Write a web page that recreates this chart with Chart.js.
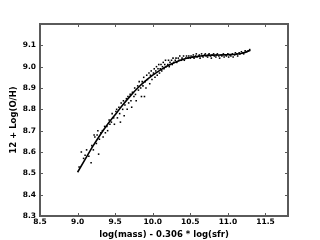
<!DOCTYPE html>
<html>
<head>
<meta charset="utf-8">
<script src="https://cdn.jsdelivr.net/npm/chart.js@4"></script>
<style>
  html, body { margin: 0; padding: 0; background: #fff; }
  #wrap { width: 320px; height: 240px; }
</style>
</head>
<body>
<div id="wrap"><canvas id="chart"></canvas></div>
<script>
const xTicks = [8.5, 9.0, 9.5, 10.0, 10.5, 11.0, 11.5];
const yTicks = [8.3, 8.4, 8.5, 8.6, 8.7, 8.8, 8.9, 9.0, 9.1];

// fitted relation
const fitMass = [9.0, 9.1, 9.2, 9.3, 9.4, 9.5, 9.6, 9.7, 9.8, 9.9, 10.0, 10.1,
    10.2, 10.3, 10.4, 10.5, 10.6, 10.7, 10.8, 10.9, 11.0, 11.1, 11.2, 11.3];
const fitOH = [8.505, 8.565, 8.625, 8.68, 8.73, 8.775, 8.82, 8.862, 8.9, 8.932, 8.96, 8.984,
    9.004, 9.021, 9.034, 9.043, 9.048, 9.052, 9.054, 9.055, 9.056, 9.058, 9.064, 9.077];

// binned galaxies
const galMass = [
    9.02, 9.05, 9.08, 9.10, 9.12, 9.15, 9.18, 9.19, 9.21, 9.22, 9.23, 9.25, 9.26, 9.27, 9.28, 9.29,
    9.31, 9.33, 9.34, 9.36, 9.37, 9.39, 9.40, 9.42, 9.43, 9.45, 9.46, 9.48, 9.49, 9.51,
    9.52, 9.53, 9.55, 9.56, 9.57, 9.58, 9.60, 9.61, 9.62, 9.63, 9.65, 9.66, 9.67, 9.68, 9.70,
    9.71, 9.72, 9.73, 9.75, 9.76, 9.77, 9.78, 9.80, 9.81, 9.82, 9.84, 9.85, 9.86, 9.87, 9.88,
    9.89, 9.90, 9.91, 9.92, 9.93, 9.95, 9.96, 9.97, 9.98, 9.99,
    10.01, 10.02, 10.03, 10.04, 10.05, 10.06, 10.07, 10.08, 10.09, 10.10, 10.11, 10.12, 10.13,
    10.14, 10.15, 10.16, 10.17, 10.18, 10.20, 10.21, 10.22, 10.23, 10.25, 10.26, 10.27, 10.28,
    10.30, 10.31, 10.32, 10.34, 10.35, 10.36, 10.38, 10.39, 10.41, 10.42, 10.44, 10.45, 10.47, 10.48,
    10.50, 10.51, 10.53, 10.54, 10.55, 10.57, 10.58, 10.59, 10.61, 10.62, 10.63, 10.65, 10.66,
    10.67, 10.69, 10.70, 10.71, 10.73, 10.74, 10.75, 10.77, 10.78, 10.79, 10.81, 10.82, 10.84,
    10.85, 10.86, 10.88, 10.89, 10.91, 10.92, 10.94, 10.95, 10.97, 10.98, 11.00, 11.01, 11.03,
    11.04, 11.06, 11.07, 11.09, 11.10, 11.12, 11.13, 11.15, 11.16, 11.18, 11.20, 11.21, 11.23,
    11.25, 11.27, 11.29
];
const galOH = [
    8.53, 8.60, 8.57, 8.585, 8.61, 8.58, 8.55, 8.63, 8.61, 8.68, 8.67, 8.64, 8.68, 8.70, 8.59, 8.66,
    8.69, 8.70, 8.67, 8.72, 8.69, 8.72, 8.70, 8.75, 8.73, 8.74, 8.78, 8.76, 8.73, 8.79,
    8.80, 8.76, 8.81, 8.78, 8.74, 8.83, 8.80, 8.84, 8.77, 8.82, 8.85, 8.80, 8.86, 8.83, 8.87,
    8.84, 8.81, 8.88, 8.86, 8.90, 8.87, 8.84, 8.91, 8.89, 8.93, 8.90, 8.86, 8.93, 8.91, 8.95,
    8.86, 8.93, 8.90, 8.96, 8.94, 8.97, 8.92, 8.96, 8.98, 8.94,
    8.97, 8.99, 8.95, 8.98, 9.00, 8.96, 8.99, 9.01, 8.97, 8.99, 9.01, 8.98, 9.00,
    9.02, 8.99, 9.01, 9.03, 9.00, 9.01, 9.03, 9.00, 9.02, 9.03, 9.01, 9.04, 9.02,
    9.03, 9.04, 9.02, 9.04, 9.03, 9.05, 9.03, 9.04, 9.05, 9.03, 9.04, 9.05, 9.04, 9.05,
    9.04, 9.05, 9.045, 9.055, 9.04, 9.05, 9.06, 9.045, 9.05, 9.055, 9.04, 9.06, 9.05,
    9.045, 9.055, 9.06, 9.05, 9.045, 9.055, 9.06, 9.05, 9.04, 9.055, 9.06, 9.05, 9.045,
    9.055, 9.06, 9.05, 9.04, 9.055, 9.05, 9.06, 9.045, 9.055, 9.05, 9.06, 9.045, 9.055,
    9.05, 9.06, 9.045, 9.055, 9.065, 9.06, 9.05, 9.065, 9.06, 9.07, 9.065, 9.06, 9.075,
    9.07, 9.075, 9.08
];

const frameColor = "#5a5a5a";
const font = { family: "DejaVu Sans", weight: "bold", size: 7.5 };
const titleFont = { family: "DejaVu Sans", weight: "bold", size: 8.5 };

// matplotlib style box with inward ticks on all four sides
const framePlugin = {
    id: "frame",
    afterDraw(chart) {
        const { ctx, chartArea: a, scales } = chart;
        ctx.save();
        ctx.strokeStyle = frameColor;
        ctx.lineWidth = 1;
        scales.x.ticks.forEach((t) => {
            const px = Math.round(scales.x.getPixelForValue(t.value)) + 0.5;
            ctx.beginPath();
            ctx.moveTo(px, a.bottom); ctx.lineTo(px, a.bottom - 3);
            ctx.moveTo(px, a.top); ctx.lineTo(px, a.top + 3);
            ctx.stroke();
        });
        scales.y.ticks.forEach((t) => {
            const py = Math.round(scales.y.getPixelForValue(t.value)) + 0.5;
            ctx.beginPath();
            ctx.moveTo(a.left, py); ctx.lineTo(a.left + 3, py);
            ctx.moveTo(a.right, py); ctx.lineTo(a.right - 3, py);
            ctx.stroke();
        });
        ctx.lineWidth = 2;
        ctx.strokeRect(a.left, a.top, a.right - a.left, a.bottom - a.top);
        ctx.restore();
    },
};

new Chart(document.getElementById("chart"), {
    type: "scatter",
    data: {
        datasets: [
            {
                label: "galaxies",
                data: galMass.map((m, i) => ({ x: m, y: galOH[i] })),
                pointStyle: "rect",
                pointRadius: 1.1,
                backgroundColor: "#000",
                borderWidth: 0,
            },
            {
                label: "fit",
                type: "line",
                data: fitMass.map((m, i) => ({ x: m, y: fitOH[i] })),
                borderColor: "#000",
                borderWidth: 1.6,
                pointRadius: 0,
                cubicInterpolationMode: "monotone",
                fill: false,
            },
        ],
    },
    options: {
        responsive: true,
        maintainAspectRatio: false,
        animation: false,
        layout: { padding: { top: 24, right: 32, left: 0, bottom: 0 } },
        plugins: { legend: { display: false }, tooltip: { enabled: false } },
        scales: {
            x: {
                type: "linear",
                min: 8.5,
                max: 11.8,
                afterBuildTicks: (scale) => { scale.ticks = xTicks.map((v) => ({ value: v })); },
                afterFit: (scale) => { scale.height = 24; },
                grid: { display: false, drawTicks: false },
                border: { display: false },
                ticks: { color: "#000", font, padding: 2, maxRotation: 0, callback: (v) => v.toFixed(1) },
                title: { display: true, text: "log(mass) - 0.306 * log(sfr)", color: "#000", font: titleFont, padding: { top: 0, bottom: 0 } },
            },
            y: {
                type: "linear",
                min: 8.3,
                max: 9.2,
                afterBuildTicks: (scale) => { scale.ticks = yTicks.map((v) => ({ value: v })); },
                afterFit: (scale) => { scale.width = 40; },
                grid: { display: false, drawTicks: false },
                border: { display: false },
                ticks: { color: "#000", font, padding: 4, callback: (v) => v.toFixed(1) },
                title: { display: true, text: "12 + Log(O/H)", color: "#000", font: titleFont, padding: { top: 9, bottom: 0 } },
            },
        },
    },
    plugins: [framePlugin],
});
</script>
</body>
</html>
